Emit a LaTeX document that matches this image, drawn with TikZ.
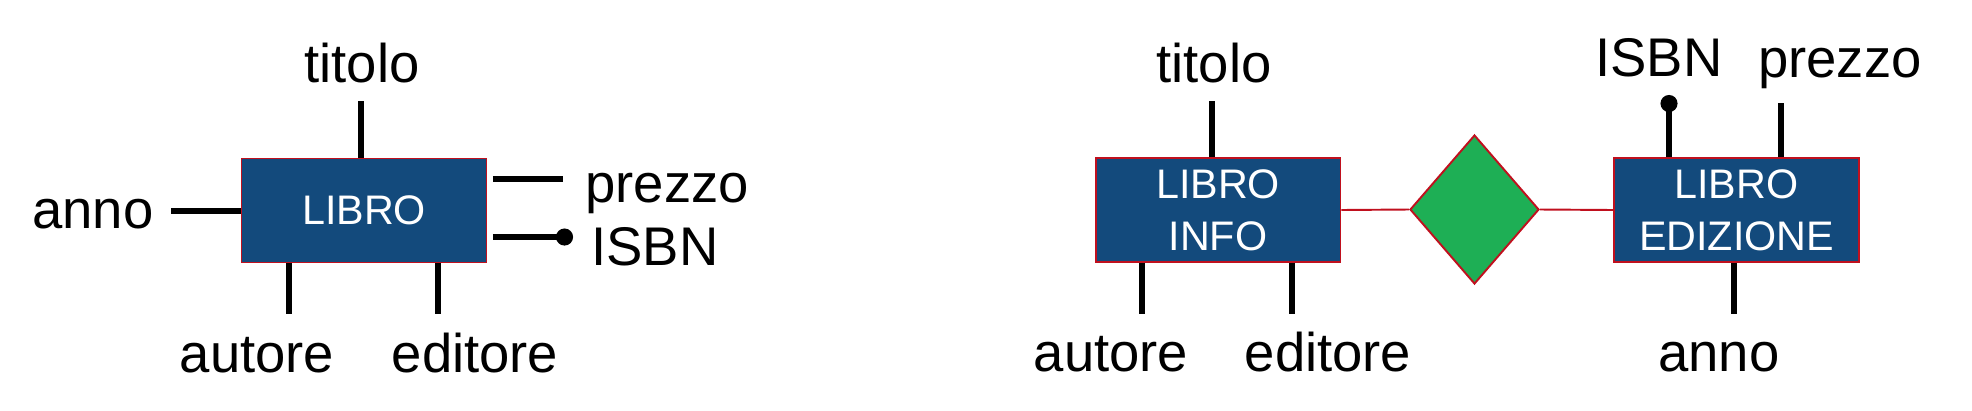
\documentclass[tikz,border=0pt]{standalone}
\usepackage{fontspec}
\setmainfont{Liberation Sans}
\usetikzlibrary{shapes.geometric,arrows.meta,positioning}
\definecolor{entblue}{RGB}{19,74,124}
\definecolor{relgreen}{RGB}{30,175,85}
\definecolor{borderred}{RGB}{192,16,30}

\begin{document}
\begin{tikzpicture}[
  x=0.02cm, y=-0.02cm,
  entity/.style={rectangle, draw=borderred, fill=entblue, line width=1.1pt,
                 minimum width=4.9cm, minimum height=2.08cm, inner sep=0pt,
                 text=white, align=center,
                 font=\fontsize{23.5}{29.5}\selectfont},
  relation/.style={diamond, draw=borderred, fill=relgreen, line width=1.1pt,
                   minimum width=2.58cm, minimum height=2.98cm, inner sep=0pt},
  attr/.style={line width=3.1pt},
  key/.style={attr, -{Circle[length=0.34cm]}},
  link/.style={draw=borderred, line width=1.1pt},
  lbl/.style={anchor=base, inner sep=0pt, font=\fontsize{31}{37}\selectfont}
]
\useasboundingbox (0,0) rectangle (1972,410);

% single entity
\node[entity] (libro) at (364,210.5) {LIBRO};
\node[lbl] (titoloA) at (362,82) {titolo};
\node[lbl] (annoA) at (93,228) {anno};
\node[lbl, anchor=base west] (prezzoA) at (585,202) {prezzo};
\node[lbl, anchor=base west] (isbnA) at (591,265) {ISBN};
\node[lbl] (autoreA) at (257,372) {autore};
\node[lbl] (editoreA) at (475,372) {editore};

\coordinate (tA) at (361,101);
\coordinate (aA) at (171,211);
\coordinate (pA) at (563,179);
\coordinate (iA) at (573,237);
\coordinate (auA) at (289,314);
\coordinate (edA) at (438,314);
\draw[attr] (tA) -- (tA |- libro.north);
\draw[attr] (aA) -- (aA -| libro.west);
\draw[attr] (libro.east |- pA) ++(0.11cm,0) -- (pA);
\draw[key] (libro.east |- iA) ++(0.11cm,0) -- (iA);
\draw[attr] (auA |- libro.south) -- (auA);
\draw[attr] (edA |- libro.south) -- (edA);

% split into two entities
\node[entity] (info) at (1218,210) {LIBRO\\INFO};
\node[relation] (rel) at (1474.5,209.5) {};
\node[entity] (edizione) at (1736.5,210) {LIBRO\\EDIZIONE};
\draw[link] (info.east) -- (rel.west);
\draw[link] (rel.east) -- (edizione.west);

\node[lbl] (titoloB) at (1214,82) {titolo};
\node[lbl] (autoreB) at (1111,371) {autore};
\node[lbl] (editoreB) at (1328,371) {editore};
\node[lbl] (isbnB) at (1659,76) {ISBN};
\node[lbl] (prezzoB) at (1840,77) {prezzo};
\node[lbl] (annoB) at (1719,371) {anno};

\coordinate (tB) at (1212,101);
\coordinate (auB) at (1142,314);
\coordinate (edB) at (1292,314);
\coordinate (iB) at (1669,95);
\coordinate (pB) at (1781,103);
\coordinate (anB) at (1734,314);
\draw[attr] (tB) -- (tB |- info.north);
\draw[attr] (auB |- info.south) -- (auB);
\draw[attr] (edB |- info.south) -- (edB);
\draw[key] (iB |- edizione.north) -- (iB);
\draw[attr] (pB) -- (pB |- edizione.north);
\draw[attr] (anB |- edizione.south) -- (anB);
\end{tikzpicture}
\end{document}
